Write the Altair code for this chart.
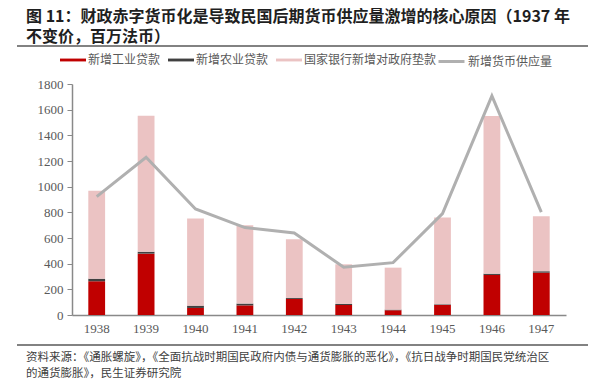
import altair as alt
import pandas as pd

# ---------------- data ----------------
years = ["1938", "1939", "1940", "1941", "1942", "1943", "1944", "1945", "1946", "1947"]
industry_loans = [263, 478, 55, 75, 125, 78, 37, 78, 312, 330]
agri_loans = [20, 15, 18, 14, 7, 8, 5, 5, 10, 11]
gov_advances = [685, 1060, 678, 610, 458, 309, 327, 676, 1229, 428]
money_supply = [922, 1229, 826, 681, 639, 372, 408, 790, 1707, 802]

series_names = ["新增工业贷款", "新增农业贷款", "国家银行新增对政府垫款"]
line_name = "新增货币供应量"
bar_colors = ["#C00000", "#404040", "#EBC3C3"]
line_color = "#B0B0B0"

TITLE = "图 11：财政赤字货币化是导致民国后期货币供应量激增的核心原因（1937 年\n不变价，百万法币）"
SOURCE = "资料来源：《通胀螺旋》，《全面抗战时期国民政府内债与通货膨胀的恶化》，《抗日战争时期国民党统治区\n的通货膨胀》，民生证券研究院"

rows = []
for i, y in enumerate(years):
    for k, vals in enumerate([industry_loans, agri_loans, gov_advances]):
        rows.append({"year": y, "series": series_names[k], "value": vals[i], "ord": k})
df_bars = pd.DataFrame(rows)
df_line = pd.DataFrame({"year": years, "supply": money_supply, "name": [line_name] * len(years)})

NUM_FONT = "Liberation Serif"
CJK_FONT = "Noto Sans CJK SC"

x_enc = alt.X(
    "year:N",
    sort=years,
    scale=alt.Scale(paddingInner=0.66, paddingOuter=0.33),
    axis=alt.Axis(title=None, labelAngle=0, ticks=False, labelPadding=7,
                  labelFont=NUM_FONT, labelFontSize=13, labelColor="#595959",
                  domainColor="#898989", domainWidth=1.5),
)
y_axis = alt.Axis(title=None, values=list(range(0, 1801, 200)), grid=False, format="d",
                  labelFont=NUM_FONT, labelFontSize=13, labelColor="#595959",
                  tickColor="#898989", tickSize=5, labelPadding=4,
                  domainColor="#898989", domainWidth=1.5)

bars = alt.Chart(df_bars).mark_bar().encode(
    x=x_enc,
    y=alt.Y("value:Q", stack="zero", scale=alt.Scale(domain=[0, 1800]), axis=y_axis),
    fill=alt.Fill(
        "series:N",
        scale=alt.Scale(domain=series_names, range=bar_colors),
        legend=alt.Legend(
            orient="none", legendX=-12, legendY=-37, direction="horizontal", columns=3,
            title=None, symbolType="M-1,-0.11H1V0.11H-1Z", symbolSize=676,
            symbolStrokeWidth=0, labelFont=CJK_FONT, labelFontSize=12,
            labelColor="#595959", labelOffset=2, columnPadding=7, padding=0,
        ),
    ),
    order=alt.Order("ord:Q"),
)

line = alt.Chart(df_line).mark_line(strokeWidth=3).encode(
    x=alt.X("year:N", sort=years),
    y=alt.Y("supply:Q", axis=y_axis),
    stroke=alt.Stroke(
        "name:N",
        scale=alt.Scale(domain=[line_name], range=[line_color]),
        legend=alt.Legend(
            orient="none", legendX=365, legendY=-37, title=None,
            symbolType="stroke", symbolSize=676, symbolStrokeWidth=3,
            labelFont=CJK_FONT, labelFontSize=12, labelColor="#595959",
            labelOffset=2, padding=0,
        ),
    ),
)

one = pd.DataFrame({"a": [0]})

def text_layer(txt, x, y, size, line_h, weight="normal", color="#404040"):
    return alt.Chart(pd.DataFrame({"t": [txt]})).mark_text(
        align="left", baseline="alphabetic", font=CJK_FONT, fontSize=size,
        fontWeight=weight, color=color, lineBreak="\n", lineHeight=line_h,
    ).encode(text="t:N", x=alt.value(x), y=alt.value(y))

title = text_layer(TITLE, -46, -62, 16, 19.5, "bold", "#1f1f1f")
src = text_layer(SOURCE, -46, 277, 11.5, 15.5)

rule_top = alt.Chart(one).mark_rule(color="#595959", strokeWidth=1.5).encode(
    x=alt.value(-55), x2=alt.value(516), y=alt.value(-38))
rule_bot = alt.Chart(one).mark_rule(color="#595959", strokeWidth=1.5).encode(
    x=alt.value(-55), x2=alt.value(516), y=alt.value(261))

chart = alt.layer(bars, line, title, src, rule_top, rule_bot).resolve_scale(
    fill="independent", stroke="independent"
).properties(
    width=494, height=231,
    autosize=alt.AutoSizeParams(type="none"),
    padding={"left": 64, "top": 76, "right": 31, "bottom": 65},
).configure_view(stroke=None)

chart.save("out.html", embed_options={"renderer": "svg", "actions": False})
